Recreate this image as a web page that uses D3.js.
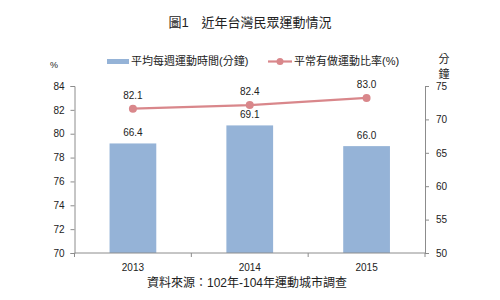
<!DOCTYPE html>
<html>
<head>
<meta charset="utf-8">
<script src="https://cdn.jsdelivr.net/npm/d3@7"></script>
<style>
  body { margin: 0; background: #fff; }
  text { font-family: "Liberation Sans", Arial, "Noto Sans CJK TC", sans-serif; fill: #222; }
</style>
</head>
<body>
<script>
// data
const years = ["2013", "2014", "2015"];
const minutes = [66.4, 69.1, 66.0];      // 平均每週運動時間(分鐘) - right axis
const ratio = [82.1, 82.4, 83.0];        // 平常有做運動比率(%) - left axis
const leftTicks = [70, 72, 74, 76, 78, 80, 82, 84];
const rightTicks = [50, 55, 60, 65, 70, 75];

const W = 500, H = 300;
const margin = { top: 86, right: 75, bottom: 47, left: 74.5 };
const width = W - margin.left - margin.right,
  height = H - margin.top - margin.bottom;

const barColor = "#95b3d7", lineColor = "#d9878b", axisColor = "#8c8c8c";

const root = d3.select("body").append("svg")
  .attr("width", W).attr("height", H);

// title
root.append("text")
  .attr("x", 250).attr("y", 27)
  .attr("text-anchor", "middle")
  .style("font-size", "13px")
  .text("圖1　近年台灣民眾運動情況");

const svg = root.append("g")
  .attr("transform", `translate(${margin.left}, ${margin.top})`);

const x = d3.scaleBand().domain(years).range([0, width]).paddingInner(0.6).paddingOuter(0.3);
const yL = d3.scaleLinear().domain([70, 84]).range([height, 0]);
const yR = d3.scaleLinear().domain([50, 75]).range([height, 0]);

// axes
const axisL = svg.append("g")
  .call(d3.axisLeft(yL).tickValues(leftTicks).tickSize(4).tickPadding(6));
const axisR = svg.append("g")
  .attr("transform", `translate(${width}, 0)`)
  .call(d3.axisRight(yR).tickValues(rightTicks).tickSize(4).tickPadding(7));

// bars
svg.selectAll("rect.bar")
  .data(years)
  .enter().append("rect")
  .attr("class", "bar")
  .attr("x", d => x(d))
  .attr("width", x.bandwidth())
  .attr("y", (d, i) => yR(minutes[i]))
  .attr("height", (d, i) => height - yR(minutes[i]))
  .attr("fill", barColor);

// bottom axis with ticks between categories
const step = x.step();
const xb = svg.append("g").attr("transform", `translate(0, ${height})`);
xb.append("line").attr("x1", 0).attr("x2", width).attr("stroke", axisColor);
xb.selectAll("line.sep")
  .data(d3.range(years.length + 1))
  .enter().append("line")
  .attr("class", "sep")
  .attr("x1", i => i * width / years.length)
  .attr("x2", i => i * width / years.length)
  .attr("y1", 0).attr("y2", 4)
  .attr("stroke", axisColor);
xb.selectAll("text")
  .data(years)
  .enter().append("text")
  .attr("x", d => x(d) + x.bandwidth() / 2)
  .attr("y", 18)
  .attr("text-anchor", "middle")
  .style("font-size", "10px")
  .text(d => d);

[axisL, axisR].forEach(a => {
  a.select(".domain").attr("stroke", axisColor);
  a.selectAll(".tick line").attr("stroke", axisColor);
  a.selectAll(".tick text").style("font-size", "10px").attr("fill", "#222");
});

// bar labels
svg.selectAll("text.blab")
  .data(years)
  .enter().append("text")
  .attr("class", "blab")
  .attr("x", d => x(d) + x.bandwidth() / 2)
  .attr("y", (d, i) => yR(minutes[i]) - 7)
  .attr("text-anchor", "middle")
  .style("font-size", "10px")
  .text((d, i) => minutes[i].toFixed(1));

// line
const cx = d => x(d) + x.bandwidth() / 2;
svg.append("path")
  .datum(years)
  .attr("fill", "none")
  .attr("stroke", lineColor)
  .attr("stroke-width", 2.2)
  .attr("d", d3.line().x(d => cx(d)).y((d, i) => yL(ratio[i])));
svg.selectAll("circle.pt")
  .data(years)
  .enter().append("circle")
  .attr("class", "pt")
  .attr("cx", d => cx(d))
  .attr("cy", (d, i) => yL(ratio[i]))
  .attr("r", 4)
  .attr("fill", lineColor);
svg.selectAll("text.llab")
  .data(years)
  .enter().append("text")
  .attr("class", "llab")
  .attr("x", d => cx(d))
  .attr("y", (d, i) => yL(ratio[i]) - 10)
  .attr("text-anchor", "middle")
  .style("font-size", "10px")
  .text((d, i) => ratio[i].toFixed(1));

// axis unit labels
root.append("text").attr("x", 54).attr("y", 68)
  .attr("text-anchor", "middle").style("font-size", "9px").text("%");
root.append("text").attr("x", 444).attr("y", 63)
  .attr("text-anchor", "middle").style("font-size", "11px").text("分");
root.append("text").attr("x", 444).attr("y", 78)
  .attr("text-anchor", "middle").style("font-size", "11px").text("鐘");

// legend
const lg = root.append("g").attr("transform", "translate(107, 65)");
lg.append("rect").attr("x", 0).attr("y", -6).attr("width", 22).attr("height", 5).attr("fill", barColor);
lg.append("text").attr("x", 24).attr("y", 0).style("font-size", "11px").text("平均每週運動時間(分鐘)");
lg.append("line").attr("x1", 161).attr("x2", 185).attr("y1", -3.5).attr("y2", -3.5)
  .attr("stroke", lineColor).attr("stroke-width", 2.2);
lg.append("circle").attr("cx", 173).attr("cy", -3.5).attr("r", 3.5).attr("fill", lineColor);
lg.append("text").attr("x", 187).attr("y", 0).style("font-size", "11px").text("平常有做運動比率(%)");

// source
root.append("text")
  .attr("x", 247).attr("y", 287)
  .attr("text-anchor", "middle")
  .style("font-size", "12px")
  .text("資料來源：102年-104年運動城市調查");
</script>
</body>
</html>
